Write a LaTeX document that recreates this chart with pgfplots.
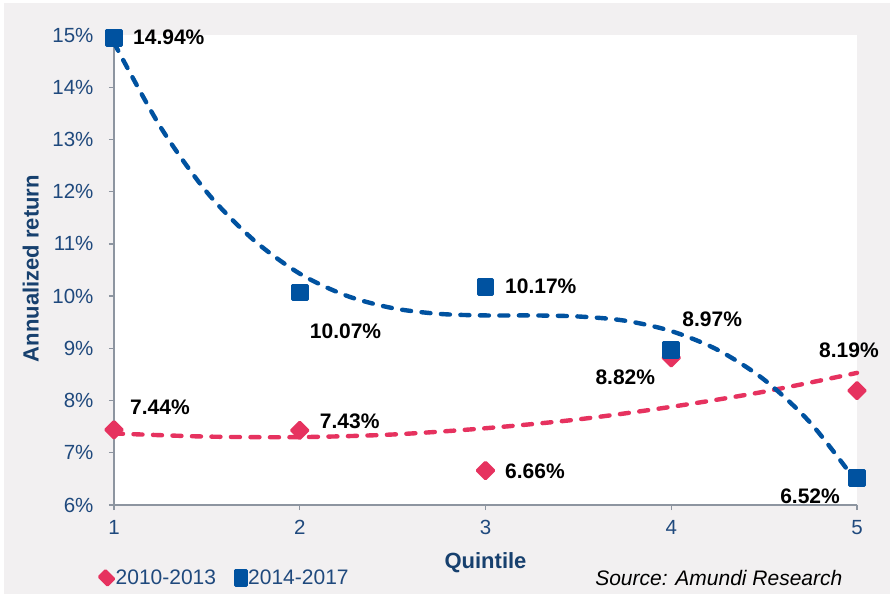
\documentclass[border=0pt]{standalone}
\usepackage{fontspec}
\setmainfont{Liberation Sans}
\usepackage{pgfplots}
\pgfplotsset{compat=1.18}
\definecolor{bggray}{HTML}{F2F0F1}
\definecolor{axgray}{HTML}{8D95A0}
\definecolor{txtblue}{HTML}{1F497D}
\definecolor{ttlblue}{HTML}{17406E}
\definecolor{qblue}{HTML}{0052A0}
\definecolor{qpink}{HTML}{E6325F}

\newcommand\lblfont{\fontsize{21}{24}\selectfont\bfseries}

\begin{document}
\begin{tikzpicture}
\path[use as bounding box, fill=white] (0,0) rectangle (894pt,598pt);
\fill[bggray] (4pt,4pt) rectangle (890pt,595pt);
\begin{axis}[
  at={(114pt,93pt)}, anchor=south west,
  scale only axis, width=743pt, height=470pt,
  xmin=1, xmax=5, ymin=6, ymax=15,
  xtick={1,2,3,4,5}, ytick={6,7,...,15},
  axis x line*=bottom, axis y line*=left,
  axis line style={-, draw=axgray, line width=1.6pt},
  axis background/.style={fill=white},
  tick align=outside, major tick length=5pt,
  tick style={draw=axgray, line width=1.4pt},
  /pgf/number format/assume math mode=true,
  yticklabel={\pgfmathprintnumber{\tick}\%},
  ticklabel style={font=\fontsize{20.5}{24}\selectfont, text=txtblue},
  yticklabel style={xshift=-12pt},
  xticklabel style={yshift=-7pt},
  xlabel={Quintile},
  ylabel={Annualized return},
  xlabel style={at={(axis description cs:0.5,-0.123)}, anchor=center,
    font=\fontsize{22}{24}\selectfont\bfseries, text=ttlblue},
  ylabel style={at={(axis description cs:-0.112,0.503)}, anchor=center, rotate=0,
    font=\fontsize{22}{24}\selectfont\bfseries, text=ttlblue},
  clip=false,
  legend columns=2,
  legend style={at={(axis description cs:-0.02,-0.155)}, anchor=west,
    draw=none, fill=none, inner sep=0pt,
    nodes={inner sep=2pt},
    font=\fontsize{21}{24}\selectfont, text=txtblue,
    /tikz/every even column/.append style={column sep=17pt}},
  legend image code/.code={\draw[#1, /tikz/every mark/.append style={xscale=0.75, yscale=1.0}] plot coordinates {(0pt,0pt)};},
]
% trend lines
\addplot[forget plot, smooth, qpink, line width=4.4pt, line cap=round,
  dash pattern=on 9pt off 10.5pt] coordinates {
  (1,7.37) (1.5,7.31) (2,7.30) (2.5,7.35) (3,7.47) (3.5,7.64) (4,7.88) (4.5,8.17) (5,8.53)
};
\addplot[forget plot, smooth, qblue, line width=4.4pt, line cap=round,
  dash pattern=on 9pt off 10.5pt] coordinates {
  (1,14.85) (1.25,13.24) (1.5,11.99) (1.75,11.08) (2,10.43) (2.25,10.01) (2.5,9.77)
  (2.75,9.66) (3,9.63) (3.25,9.63) (3.5,9.61) (3.75,9.53) (4,9.33) (4.25,8.97)
  (4.5,8.40) (4.75,7.57) (5,6.43)
};
% data
\addplot[only marks, mark=square*, mark size=5.8pt,
  mark options={rotate=45, draw=qpink, fill=qpink, line width=3pt, line join=round}]
  coordinates {(1,7.44) (2,7.43) (3,6.66) (4,8.82) (5,8.19)};
\addlegendentry{2010-2013}
\addplot[only marks, mark=square*, mark size=7.4pt,
  mark options={draw=qblue, fill=qblue, line width=3pt, line join=round}]
  coordinates {(1,14.94) (2,10.07) (3,10.17) (4,8.97) (5,6.52)};
\addlegendentry{2014-2017}
% value labels
\tikzset{lbl/.style={font=\lblfont, inner sep=0pt, text=black}}
\node[lbl, anchor=west, xshift=19pt, yshift=1pt] at (axis cs:1,14.94) {14.94\%};
\node[lbl, anchor=west, xshift=10pt, yshift=-39pt] at (axis cs:2,10.07) {10.07\%};
\node[lbl, anchor=west, xshift=19.5pt, yshift=1pt] at (axis cs:3,10.17) {10.17\%};
\node[lbl, anchor=west, xshift=11pt, yshift=31pt] at (axis cs:4,8.97) {8.97\%};
\node[lbl, anchor=east, xshift=-16pt, yshift=-20pt] at (axis cs:4,8.82) {8.82\%};
\node[lbl, anchor=west, xshift=-38pt, yshift=40pt] at (axis cs:5,8.19) {8.19\%};
\node[lbl, anchor=east, xshift=-17pt, yshift=-18pt] at (axis cs:5,6.52) {6.52\%};
\node[lbl, anchor=west, xshift=16pt, yshift=23pt] at (axis cs:1,7.44) {7.44\%};
\node[lbl, anchor=west, xshift=20pt, yshift=9pt] at (axis cs:2,7.43) {7.43\%};
\node[lbl, anchor=west, xshift=19.5pt, yshift=-0.5pt] at (axis cs:3,6.66) {6.66\%};
% source note
\node[anchor=east, font=\fontsize{21}{24}\selectfont\itshape, text=black]
  at (axis description cs:0.985,-0.155) {Source: Amundi Research};
\end{axis}
\end{tikzpicture}
\end{document}
